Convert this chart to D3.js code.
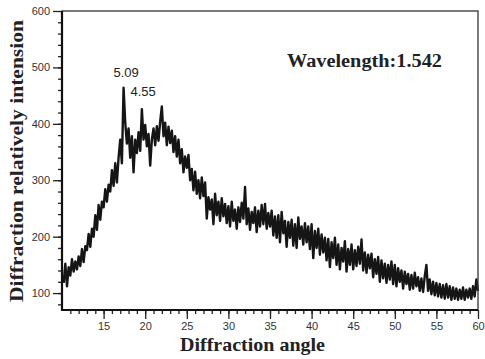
<!DOCTYPE html>
<html>
<head>
<meta charset="utf-8">
<script src="https://cdn.jsdelivr.net/npm/d3@7"></script>
<style>
  body { margin: 0; background: #fff; }
  svg { display: block; }
</style>
</head>
<body>
<div id="chart"></div>
<script>
// diffraction angle (2theta), start value and step of the scan
const angleStart = 10.2
const angleStep = 0.2
// intensity, one value per step
const intensity = [
  118, 152, 112, 146,
  131, 160, 138, 156, 142,
  165, 148, 178, 155, 183,
  176, 205, 182, 214, 200,
  238, 212, 256, 230, 262,
  252, 284, 262, 292, 280,
  318, 290, 330, 296, 340,
  372, 330, 464, 402, 365,
  392, 340, 378, 314, 372,
  348, 385, 352, 426, 372,
  398, 360, 382, 326, 372,
  392, 362, 396, 370, 404,
  431, 378, 402, 362, 395,
  366, 388, 350, 378, 342,
  372, 330, 355, 314, 342,
  322, 345, 300, 320, 282,
  315, 276, 300, 268, 305,
  272, 296, 232, 270, 248,
  266, 222, 276, 238, 262,
  228, 268, 236, 258, 224,
  254, 218, 262, 228, 248,
  214, 252, 226, 260, 232,
  288, 222, 250, 212, 244,
  224, 252, 208, 246, 218,
  256, 222, 258, 214, 242,
  218, 246, 202, 236, 198,
  238, 190, 244, 206, 228,
  182, 226, 198, 230, 184,
  222, 180, 234, 196, 218,
  186, 224, 190, 218, 178,
  222, 162, 210, 180, 214,
  168, 204, 172, 198, 158,
  196, 146, 190, 162, 198,
  150, 186, 142, 180, 156,
  192, 138, 178, 150, 186,
  142, 176, 148, 182, 152,
  195, 140, 172, 136, 168,
  144, 170, 128, 160, 134,
  164, 120, 158, 126, 152,
  118, 150, 124, 156, 116,
  150, 112, 144, 120, 140,
  108, 138, 116, 134, 106,
  132, 108, 136, 112, 128,
  104, 126, 102, 130, 150,
  104, 124, 98, 120, 96,
  118, 94, 116, 92, 114,
  90, 116, 92, 112, 88,
  110, 90, 108, 88, 106,
  90, 110, 88, 106, 92,
  108, 90, 112, 94, 124,
  104
]
const xTicks = [15, 20, 25, 30, 35, 40, 45, 50, 55, 60]
const yTicks = [100, 200, 300, 400, 500, 600]
// d-spacing labels over the first two peaks: [angle, intensity, text]
const peakLabels = [[17.7, 483, '5.09'], [19.75, 449, '4.55']]

const width = 485, height = 359
const x = d3.scaleLinear().domain([10, 60]).range([62, 478])
const y = d3.scaleLinear().domain([70, 600]).range([310, 11])

const svg = d3.select('#chart')
  .append('svg')
  .attr('width', width)
  .attr('height', height)

const points = intensity.map((v, i) => [angleStart + i * angleStep, v])

svg.append('path')
  .datum(points)
  .attr('fill', 'none')
  .attr('stroke', '#151515')
  .attr('stroke-width', 2.4)
  .attr('stroke-linejoin', 'round')
  .attr('d', d3.line().x(d => x(d[0])).y(d => y(d[1])))

// minor ticks first, then the labelled ones
svg.append('g')
  .attr('transform', 'translate(0,310)')
  .call(d3.axisBottom(x).tickValues(d3.range(11, 60, 1)).tickSize(4).tickFormat(''))
  .call(g => g.select('.domain').remove())
svg.append('g')
  .attr('transform', 'translate(0,310)')
  .call(d3.axisBottom(x).tickValues(xTicks).tickSize(9).tickPadding(3))
  .call(g => g.select('.domain').remove())
  .call(g => g.selectAll('text').attr('font-family', 'Liberation Sans, Arial, sans-serif').attr('font-size', 11).attr('fill', '#333'))

svg.append('g')
  .attr('transform', 'translate(62,0)')
  .call(d3.axisLeft(y).tickValues(d3.range(80, 600, 20)).tickSize(4).tickFormat(''))
  .call(g => g.select('.domain').remove())
svg.append('g')
  .attr('transform', 'translate(62,0)')
  .call(d3.axisLeft(y).tickValues(yTicks).tickSize(9).tickPadding(3))
  .call(g => g.select('.domain').remove())
  .call(g => g.selectAll('text').attr('font-family', 'Liberation Sans, Arial, sans-serif').attr('font-size', 11).attr('fill', '#333'))

svg.selectAll('.tick line').attr('stroke', '#222').attr('stroke-width', 1.3)

// frame
svg.append('rect')
  .attr('x', 62).attr('y', 11)
  .attr('width', 416).attr('height', 299)
  .attr('fill', 'none')
  .attr('stroke', '#333')
  .attr('stroke-width', 1.3)
svg.append('path')
  .attr('d', 'M62,11V310H478')
  .attr('fill', 'none')
  .attr('stroke', '#111')
  .attr('stroke-width', 2.2)

svg.selectAll('.peak')
  .data(peakLabels)
  .enter()
  .append('text')
  .attr('x', d => x(d[0]))
  .attr('y', d => y(d[1]))
  .attr('text-anchor', 'middle')
  .attr('font-family', 'Liberation Sans, Arial, sans-serif')
  .attr('font-size', 13)
  .attr('fill', '#222')
  .text(d => d[2])

svg.append('text')
  .attr('x', 287).attr('y', 67)
  .attr('font-family', 'Liberation Serif, Times New Roman, serif')
  .attr('font-weight', 'bold')
  .attr('font-size', 18)
  .attr('textLength', 155)
  .attr('lengthAdjust', 'spacingAndGlyphs')
  .attr('fill', '#222')
  .text('Wavelength:1.542')

svg.append('text')
  .attr('x', 180).attr('y', 351)
  .attr('font-family', 'Liberation Serif, Times New Roman, serif')
  .attr('font-weight', 'bold')
  .attr('font-size', 19)
  .attr('textLength', 145)
  .attr('lengthAdjust', 'spacingAndGlyphs')
  .attr('fill', '#222')
  .text('Diffraction angle')

svg.append('text')
  .attr('transform', 'translate(23,302) rotate(-90)')
  .attr('font-family', 'Liberation Serif, Times New Roman, serif')
  .attr('font-weight', 'bold')
  .attr('font-size', 19)
  .attr('textLength', 282)
  .attr('lengthAdjust', 'spacingAndGlyphs')
  .attr('fill', '#222')
  .text('Diffraction relatively intension')
</script>
</body>
</html>
